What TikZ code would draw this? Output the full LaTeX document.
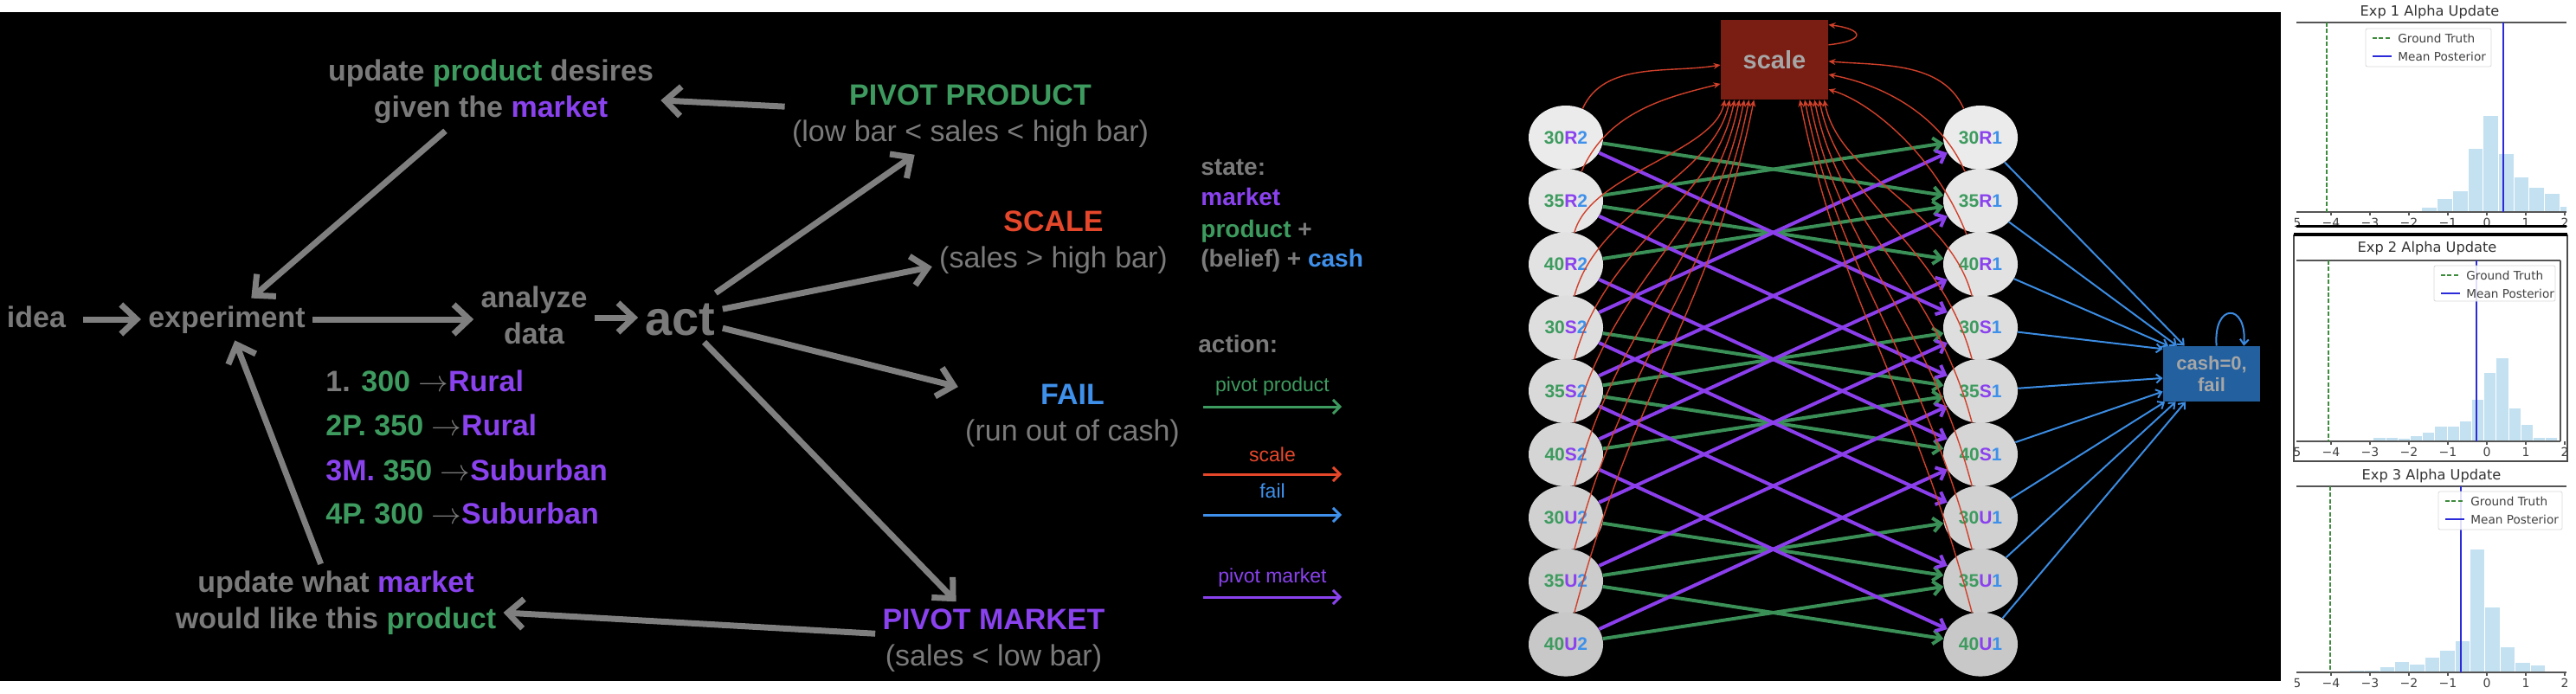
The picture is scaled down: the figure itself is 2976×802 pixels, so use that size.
\documentclass[tikz,border=0pt]{standalone}
\usepackage{fontspec}
\setmainfont{Liberation Sans}
\newfontfamily\plotfont{DejaVu Sans}
\usetikzlibrary{arrows.meta,calc,shapes.geometric,positioning}

\definecolor{txtgray}{HTML}{7A7A7A}
\definecolor{arrgray}{HTML}{7F7F7F}
\definecolor{cgreen}{HTML}{3E9B5F}
\definecolor{cpurple}{HTML}{8A42EE}
\definecolor{cred}{HTML}{E5472B}
\definecolor{cblue}{HTML}{3E90EA}
\definecolor{egreen}{HTML}{3A9057}
\definecolor{epurple}{HTML}{8B3FEC}
\definecolor{ered}{HTML}{D0402A}
\definecolor{eblue}{HTML}{3B8CE2}
\definecolor{scalered}{HTML}{7A1D12}
\definecolor{cashblue}{HTML}{22609F}
\definecolor{boxtxt}{HTML}{A6A6A6}
\definecolor{barblue}{HTML}{C4E1F1}
\definecolor{gtgreen}{HTML}{3D8B3D}
\definecolor{meanblue}{HTML}{2B2BD9}
\definecolor{spine}{HTML}{555555}

\tikzset{
  lbl/.style={text=txtgray, font={\fontsize{17}{21}\selectfont\bfseries},
    align=center, inner sep=4pt},
  oneline/.style={text height=12.5pt, text depth=3.5pt},
  flow/.style={draw=arrgray, line width=3.5pt,
    -{Straight Barb[length=9pt,width=17pt]}},
  listitem/.style={text=txtgray, font={\fontsize{17}{21}\selectfont\bfseries},
    anchor=base west, inner sep=0pt},
  sidetxt/.style={text=txtgray, font={\fontsize{14}{17}\selectfont\bfseries},
    anchor=base west, inner sep=0pt},
  keytxt/.style={font={\fontsize{11.5}{13}\selectfont}, anchor=base, inner sep=0pt},
  keyarrow/.style={line width=1.5pt, -{Straight Barb[length=4pt,width=8pt]}},
  stnode/.style={ellipse, minimum width=43pt, minimum height=37pt,
    inner sep=0pt, font={\fontsize{10.5}{12}\selectfont\bfseries}},
  prodedge/.style={draw=egreen, line width=2pt, -{Straight Barb[length=4.5pt,width=8pt]}},
  mktedge/.style={draw=epurple, line width=2pt, -{Straight Barb[length=4.5pt,width=8pt]}},
  scaleedge/.style={draw=ered, line width=0.7pt, -{Stealth[length=4pt,width=3.5pt]}},
  failedge/.style={draw=eblue, line width=1pt, -{Straight Barb[length=3pt,width=5pt]}},
  ptitle/.style={font={\plotfont\fontsize{8.1}{9}\selectfont}, text=black!80, inner sep=0pt},
  ticklbl/.style={font={\plotfont\fontsize{7}{8}\selectfont}, text=black!75, inner sep=0pt},
  legtxt/.style={font={\plotfont\fontsize{6.8}{8}\selectfont}, text=black!75, anchor=west, inner sep=0pt},
  legbox/.style={draw=black!15, fill=white, fill opacity=0.85, rounded corners=1pt, line width=0.4pt},
  spineline/.style={draw=spine, line width=0.8pt},
  gtline/.style={draw=gtgreen, line width=0.8pt, dash pattern=on 2.5pt off 1.2pt},
  meanline/.style={draw=meanblue, line width=1pt},
  bar/.style={fill=barblue, draw=white, line width=0.3pt},
}

\begin{document}
\begin{tikzpicture}[x=0.5pt,y=-0.5pt]
        \useasboundingbox (0,0) rectangle (2976,802);
        \fill[white] (0,0) rectangle (2976,802);
        \fill[black] (0,14) rectangle (2635,787);

        % the experiment loop
        \node[lbl,oneline,anchor=base] (idea) at (42,378) {idea};
        \node[lbl,oneline,anchor=base] (exp) at (262,378) {experiment};
        \node[lbl] (ana) at (617,364) {analyze\\data};
        \node[lbl,anchor=base,text height=20pt,text depth=0pt,
          font={\fontsize{28}{30}\selectfont\bfseries}] (act) at (786,387) {act};
        \node[lbl] (upd1) at (567,106) {update \textcolor{cgreen}{product} desires\\given the \textcolor{cpurple}{market}};
        \node[lbl] (upd2) at (388,697) {update what \textcolor{cpurple}{market}\\would like this \textcolor{cgreen}{product}};

        \node[lbl] (pp) at (1121,134) {\textcolor{cgreen}{PIVOT PRODUCT}\\\mdseries(low bar < sales < high bar)};
        \node[lbl] (sc) at (1217,280) {\textcolor{cred}{SCALE}\\\mdseries(sales > high bar)};
        \node[lbl] (fl) at (1239,480) {\textcolor{cblue}{FAIL}\\\mdseries(run out of cash)};
        \node[lbl] (pm) at (1148,740) {\textcolor{cpurple}{PIVOT MARKET}\\\mdseries(sales < low bar)};

        \draw[flow,shorten <=6pt] (idea) -- (idea -| exp.west);
        \draw[flow] (exp) -- (exp -| ana.west);
        \draw[flow] (ana.east |- act) -- (act);
        \draw[flow] (act) -- (pp);
        \draw[flow] (act) -- (sc);
        \draw[flow] (act) -- (fl);
        \draw[flow] (act) -- (pm);
        \draw[flow] (pp) -- (upd1);
        \draw[flow] (upd1) -- (exp);
        \draw[flow] (pm) -- (upd2);
        \draw[flow] (upd2) -- (exp);

        % experiments run so far
        \node[listitem] (it1) at (376,452) {1. \textcolor{cgreen}{300} $\rightarrow$\textcolor{cpurple}{Rural}};
        \node[listitem] (it2) at (376,503) {\textcolor{cgreen}{2P. 350} $\rightarrow$\textcolor{cpurple}{Rural}};
        \node[listitem] (it3) at (376,555) {\textcolor{cpurple}{3M.} \textcolor{cgreen}{350} $\rightarrow$\textcolor{cpurple}{Suburban}};
        \node[listitem] (it4) at (376,605) {\textcolor{cgreen}{4P. 300} $\rightarrow$\textcolor{cpurple}{Suburban}};

        % state and action key
        \node[sidetxt] (st1) at (1387,203) {state:};
        \node[sidetxt] (st2) at (1387,238) {\textcolor{cpurple}{market}};
        \node[sidetxt] (st3) at (1387,275) {\textcolor{cgreen}{product} +};
        \node[sidetxt] (st4) at (1387,308) {(belief) + \textcolor{cblue}{cash}};
        \node[sidetxt] (actn) at (1384,407) {action:};

        \foreach \n/\c/\t/\ty/\ay in {kpp/cgreen/pivot product/452/470,
            ksc/cred/scale/533/548, kfl/cblue/fail/575/595,
            kpm/cpurple/pivot market/673/690}{
          \node[keytxt,text=\c] (\n) at (1470,\ty) {\t};
          \coordinate (\n-a) at (1390,\ay);
          \coordinate (\n-b) at (1550,\ay);
          \draw[keyarrow,draw=\c] (\n-a) -- (\n-b);
        }

        % state graph
        \node[fill=scalered, minimum width=62pt, minimum height=46pt, text=boxtxt,
          font={\fontsize{14.5}{16}\selectfont\bfseries}] (scbox) at (2050,69) {scale};
        \node[fill=cashblue, minimum width=56pt, minimum height=32pt, text=boxtxt, align=center,
          font={\fontsize{11}{12.5}\selectfont\bfseries}] (cash) at (2555,432) {cash=0,\\fail};

        \foreach \k/\p/\m in {0/30/R,1/35/R,2/40/R,3/30/S,4/35/S,5/40/S,6/30/U,7/35/U,8/40/U}{
          \pgfmathsetmacro\ny{159+73.2*\k}
          \pgfmathsetmacro\nshade{8+1.7*\k}
          \node[stnode,fill=black!\nshade] (l\k) at (1809,\ny)
            {\textcolor{cgreen}{\p}\textcolor{cpurple}{\m}\textcolor{cblue}{2}};
          \node[stnode,fill=black!\nshade] (r\k) at (2288,\ny)
            {\textcolor{cgreen}{\p}\textcolor{cpurple}{\m}\textcolor{cblue}{1}};
        }

        % pivot product: change price, same market
        \foreach \m in {0,3,6}{
          \pgfmathtruncatemacro\na{\m+1}
          \pgfmathtruncatemacro\nb{\m+2}
          \draw[prodedge] (l\m) -- (r\na);
          \draw[prodedge] (l\na) -- (r\m);
          \draw[prodedge] (l\na) -- (r\nb);
          \draw[prodedge] (l\nb) -- (r\na);
        }
        % pivot market: same price, next market
        \foreach \p in {0,1,2}{
          \pgfmathtruncatemacro\ps{\p+3}
          \pgfmathtruncatemacro\pu{\p+6}
          \draw[mktedge] (l\p) -- (r\ps);
          \draw[mktedge] (l\ps) -- (r\p);
          \draw[mktedge] (l\ps) -- (r\pu);
          \draw[mktedge] (l\pu) -- (r\ps);
        }

        % scale edges
        \draw[scaleedge] (l0.60) .. controls +(25,-55) and +(-60,10) .. ($(scbox.north west)!0.565!(scbox.south west)$);
        \draw[scaleedge] (l1.62) .. controls +(30,-70) and +(-60,15) .. ($(scbox.north west)!0.80!(scbox.south west)$);
        \foreach \k in {2,...,8}{
          \pgfmathsetmacro\d{159+73.2*\k-36-117}
          \pgfmathsetmacro\f{0.04+0.045*(\k-2)}
          \draw[scaleedge] (l\k.75) .. controls +({0.12*\d},{-0.45*\d}) and +({-0.08*\d},{0.4*\d})
            .. ($(scbox.south west)!\f!(scbox.south east)$);
        }
        \draw[scaleedge] (r0.120) .. controls +(-25,-55) and +(60,5) .. ($(scbox.north east)!0.52!(scbox.south east)$);
        \draw[scaleedge] (r1.118) .. controls +(-30,-70) and +(55,10) .. ($(scbox.north east)!0.685!(scbox.south east)$);
        \draw[scaleedge] (r2.115) .. controls +(-35,-90) and +(50,15) .. ($(scbox.north east)!0.87!(scbox.south east)$);
        \foreach \k in {3,...,8}{
          \pgfmathsetmacro\d{159+73.2*\k-36-117}
          \pgfmathsetmacro\f{0.96-0.045*(\k-3)}
          \draw[scaleedge] (r\k.105) .. controls +({-0.12*\d},{-0.45*\d}) and +({0.08*\d},{0.4*\d})
            .. ($(scbox.south west)!\f!(scbox.south east)$);
        }
        \coordinate (sl1) at ($(scbox.north east)!0.315!(scbox.south east)$);
        \coordinate (sl2) at ($(scbox.north east)!0.065!(scbox.south east)$);
        \draw[scaleedge] (sl1) .. controls +(45,-5) and +(40,5) .. (sl2);

        % fail edges
        \foreach \k/\a in {0/134,1/141,2/147,3/153,4/185,5/200,6/211,7/218,8/227}
          \draw[failedge] (r\k) -- (cash.\a);
        \coordinate (cl1) at ($(cash.north west)!0.55!(cash.north east)$);
        \coordinate (cl2) at ($(cash.north west)!0.83!(cash.north east)$);
        \draw[failedge] (cl1) .. controls +(-4,-50) and +(4,-50) .. (cl2);

        % posterior plots
        \node[ptitle] (t1) at (2807,14) {Exp 1 Alpha Update};
        \node[ptitle] (t2) at (2804,287) {Exp 2 Alpha Update};
        \node[ptitle] (t3) at (2809,550) {Exp 3 Alpha Update};

        \begin{scope}
          \clip (2653,26) rectangle (2965,245);
          \foreach \h [count=\i from 0] in {2,6,16,25,74,112,68,41,29,22,7}
            \draw[bar] ({2780+17.7*\i},245) rectangle +(17.7,-\h);
        \end{scope}
        \begin{scope}
          \clip (2651,301) rectangle (2958,510);
          \foreach \h [count=\i from 0] in {0.5,1,2,1,1,1.5,4.7,4.7,4,6.7,10.7,17.3,17.7,24,48.3,80,96.7,38.3,20,5,4.3}
            \draw[bar] ({2656.5+14.2*\i},510) rectangle +(14.2,-\h);
        \end{scope}
        \begin{scope}
          \clip (2653,562) rectangle (2965,777);
          \foreach \h [count=\i from 0] in {2,3,3,7,13,10,18,26,37,143,76,30,12,9}
            \draw[bar] ({2696.7+17.4*\i},777) rectangle +(17.4,-\h);
        \end{scope}

        \foreach \top/\bot/\rgt/\gt/\mn in {26/245/2965/2688/2892, 301/510/2958/2690/2861, 562/777/2965/2692/2843}{
          \draw[spineline] (2653,\top) -- (\rgt,\top);
          \draw[spineline] (2653,\bot) -- (\rgt,\bot);
          \draw[gtline] (\gt,\top) -- (\gt,\bot);
          \draw[meanline] (\mn,\top) -- (\mn,\bot);
          \begin{scope}
            \clip (2651,\bot) rectangle (2967,{\bot+22});
            \foreach \v/\t in {-5/−5,-4/−4,-3/−3,-2/−2,-1/−1,0/0,1/1,2/2}{
              \draw[spineline] ({2873+45*\v},\bot) -- ++(0,4);
              \node[ticklbl] at ({2873+45*\v},{\bot+12}) {\t};
            }
          \end{scope}
        }
        \draw[spineline] (2958,301) -- (2958,510);
        \fill[black] (2653,260) rectangle (2965,263);
        \draw[black!70, line width=0.6pt] (2650,272) rectangle (2966,533);
        \fill[black] (2650,269) rectangle (2966,273);

        \foreach \lx/\ly/\rx/\ry in {2733/33/2878/77, 2812/307/2952/348, 2817/568/2960/612}{
          \draw[legbox] (\lx,\ly) rectangle (\rx,\ry);
          \draw[gtline] ({\lx+8},{\ly+11}) -- +(22,0);
          \draw[meanline] ({\lx+8},{\ly+32}) -- +(22,0);
          \node[legtxt] at ({\lx+37},{\ly+11}) {Ground Truth};
          \node[legtxt] at ({\lx+37},{\ly+32}) {Mean Posterior};
        }
\end{tikzpicture}
\end{document}
